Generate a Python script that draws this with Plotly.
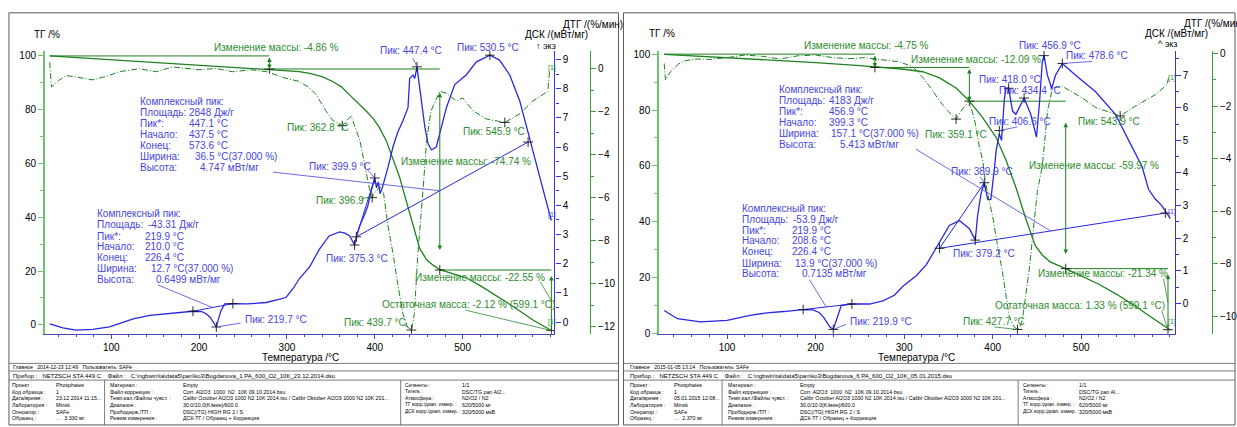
import plotly.graph_objects as go

W, H = 1237, 427
FONT = "Arial, Liberation Sans, sans-serif"
GREEN = "rgb(30,128,30)"
GREEN_T = "rgb(45,140,45)"
BLUE = "rgb(40,40,225)"
BLUE_T = "rgb(70,70,220)"
TG_AX = "rgb(110,195,110)"
DTG_AX = "rgb(60,160,60)"
DSC_AX = "rgb(50,50,235)"

# ================= DATA : left sample (Bogdanova_1, 23.12.2014) =================
L_TG_T = [30, 60, 100, 150, 200, 250, 280, 300, 314, 326, 340, 352, 362, 371, 380, 390, 398, 405,
          413, 420, 428, 432, 440, 451, 459, 466, 474, 490, 504, 520, 542, 560, 580, 601]
L_TG = [100.0, 99.4, 98.6, 97.7, 96.7, 95.7, 95.1, 94.6, 94.2, 93.5, 92.3, 90.5, 88.5, 85.6, 82.8,
        79.6, 76.8, 73.5, 68.5, 62.5, 55.2, 50.5, 41.5, 28.5, 24.2, 22.3, 20.5, 18.9, 17.5, 14.6,
        10.2, 6.3, 1.8, -2.1]

L_DTG_T = [30, 32, 40, 49, 62, 79, 95, 109, 132, 151, 170, 185, 200, 219, 238, 260, 277, 298, 314,
           326, 333, 345, 352, 363, 373, 383, 390, 394, 397, 401, 406, 410, 415, 421, 426, 432, 437,
           442, 445, 449, 455, 459, 464, 474, 481, 493, 500, 512, 527, 548, 565, 580, 597, 599]
L_DTG = [0.3, -0.85, -0.55, -0.32, -0.4, -0.52, -0.35, -0.14, 0.0, -0.14, 0.08, 0.0, -0.05, 0.01,
         -0.14, -0.05, -0.14, -0.44, -0.59, -0.9, -1.2, -2.0, -2.4, -2.65, -2.2, -3.33, -4.8, -5.6,
         -6.0, -5.7, -5.5, -5.8, -7.3, -8.66, -10.0, -11.4, -12.0, -12.16, -11.4, -8.66, -5.6,
         -3.33, -1.96, -1.05, -1.13, -1.5, -1.36, -1.96, -2.34, -2.5, -2.1, -1.5, -1.05, -0.05]

L_DSC_T = [30, 45, 60, 79, 98, 125, 144, 163, 193, 203, 208, 213, 216, 219.6, 222, 225, 229, 238.5,
           255, 276.5, 299, 307, 314.5, 326, 337, 348, 360, 366, 371.4, 377, 379, 383, 388, 392, 396,
           400, 402, 404, 406, 409, 415, 420.7, 426, 432, 437.8, 439.7, 443.5, 445.5, 448, 451, 454,
           457, 460.6, 464.5, 470, 474, 481.5, 491, 504, 515.7, 531, 542, 553.6, 565, 576.5, 588,
           595.4, 601]
L_DSC = [-0.06, -0.2, -0.28, -0.25, -0.17, 0.11, 0.23, 0.28, 0.37, 0.36, 0.28, 0.15, 0.02, -0.17,
         0.1, 0.39, 0.62, 0.63, 0.62, 0.67, 0.84, 1.15, 1.5, 1.9, 2.5, 2.95, 3.09, 3.05, 2.95, 2.64,
         2.92, 3.31, 3.65, 3.98, 4.5, 4.94, 4.6, 4.8, 4.4, 4.65, 5.3, 6.0, 6.5, 6.9, 7.35, 8.36, 8.47,
         8.35, 8.75, 8.02, 7.3, 6.68, 6.12, 5.9, 6.0, 6.45, 7.35, 8.14, 8.47, 8.92, 9.15, 8.98, 8.47,
         7.58, 6.23, 4.88, 4.1, 3.48]

L_DSC_MK_T = [193, 238.5, 219.6, 377, 379, 400, 448, 531, 574.5]
L_DSC_MK = [0.37, 0.63, -0.17, 2.64, 2.92, 4.94, 8.75, 9.15, 6.17]
L_DTG_MK_T = [363, 397, 441.7, 548]
L_DTG_MK = [-2.65, -6.0, -12.16, -2.5]
L_TG_MK_T = [280, 474, 601]
L_TG_MK = [95.14, 20.4, -2.12]
L_BASE = [([193, 238.5], [0.37, 0.63]), ([379, 574.5], [2.92, 6.17]), ([379, 400], [2.92, 4.94])]
L_STEPS_T = [30, 280, 474, 601]          # mass-change step boundaries
L_STEPS = [100.0, 95.14, 20.4, -2.12]    # mass levels

# ================= DATA : right sample (Bogdanova_6, 05.01.2015) =================
R_TG_T = [29, 60, 100, 150, 200, 250, 267, 300, 321, 340, 358.7, 373.7, 388.7, 403.7, 415, 426, 437,
          448, 456, 465, 482.5, 500, 520, 540, 557.5, 580, 595, 600.6]
R_TG = [99.9, 99.4, 98.8, 97.9, 97.0, 95.9, 95.4, 94.6, 93.7, 91.5, 87.9, 83.2, 77.3, 70.3, 62.1,
        52.5, 41.5, 31.5, 28.1, 25.6, 23.2, 20.6, 17.6, 14.0, 10.5, 5.6, 2.4, 1.2]

R_DTG_T = [29, 30.5, 33, 36.3, 45, 51, 65, 80, 100, 120, 140, 160, 180, 200, 220, 238.7, 255, 267,
           280, 295, 310, 321, 330, 340, 350, 358.7, 366, 373.7, 380, 385, 388.7, 392, 396, 400, 405,
           411, 418.7, 424, 428, 431, 433.7, 441, 450.6, 456, 462, 467.5, 478.7, 490, 501, 516.5,
           530, 544, 561, 583.7, 596.8, 598.6]
R_DTG = [-0.37, -1.0, -0.85, -0.68, -0.4, -0.28, -0.2, -0.22, -0.15, -0.05, -0.1, -0.2, -0.08,
         -0.05, -0.15, -0.19, -0.15, -0.19, -0.25, -0.31, -0.5, -0.9, -1.3, -1.8, -2.2, -2.49, -2.1,
         -1.8, -2.6, -3.55, -4.05, -4.9, -5.6, -6.2, -7.2, -8.3, -10.0, -10.4, -10.5, -10.4, -10.1,
         -8.3, -5.2, -4.3, -2.18, -1.31, -1.24, -1.45, -1.68, -2.05, -2.2, -2.37, -2.0, -1.56,
         -1.18, -0.93]

R_DSC_T = [29, 44, 70, 100, 126, 145, 164, 186, 197, 204, 209, 213, 216, 220, 223, 225.6, 229, 238.7,
           261, 276, 289, 299, 313.7, 325, 336, 351, 362.4, 373.7, 380.4, 383, 387, 390.6, 394.4, 398,
           401.8, 404, 407.5, 410, 413, 415, 418, 422.5, 426.2, 431.8, 435.5, 443, 449.5, 453, 456,
           458, 461.8, 466.7, 471, 478.7, 493.7, 516, 538.7, 553.6, 568.7, 576, 583.7, 591, 600.6]
R_DSC = [-0.22, -0.47, -0.57, -0.52, -0.37, -0.29, -0.25, -0.19, -0.2, -0.28, -0.42, -0.6, -0.72,
         -0.8, -0.55, -0.32, -0.07, -0.02, -0.02, 0.08, 0.25, 0.53, 0.85, 1.18, 1.69, 2.39, 2.54,
         2.29, 1.94, 2.69, 3.39, 3.7, 3.19, 3.19, 4.1, 4.7, 5.2, 5.0, 6.2, 6.6, 6.6, 5.9, 5.8, 6.1,
         6.3, 5.8, 5.1, 6.2, 7.4, 7.6, 7.0, 6.6, 7.0, 7.36, 7.0, 6.5, 5.8, 5.0, 4.2, 3.5, 3.2, 3.0,
         2.6]

R_DSC_MK_T = [186, 241, 220, 340, 380.4, 390.6, 407.5, 418, 435.5, 458, 478.7, 595]
R_DSC_MK = [-0.19, -0.02, -0.8, 1.69, 1.94, 3.7, 5.3, 6.6, 6.3, 7.6, 7.36, 2.77]
R_DTG_MK_T = [358.7, 428, 544]
R_DTG_MK = [-2.49, -10.5, -2.37]
R_TG_MK_T = [267, 373.7, 482.5, 598]
R_TG_MK = [95.25, 83.16, 23.19, 1.33]
R_BASE = [([186, 241], [-0.19, -0.02]), ([340, 595], [1.69, 2.77]), ([340, 390.6], [1.69, 3.7])]
R_STEPS_T = [29, 267, 373.7, 482.5, 598]
R_STEPS = [100.0, 95.25, 83.16, 23.19, 1.33]

X_TICKS = [100, 200, 300, 400, 500]
X_MINOR = list(range(40, 601, 20))

# ================= layout geometry =================
YTOP, YBOT = 49, 337
P = {
    "L": dict(xa="x", tg="y", dsc="y2", dtg="y3", xpx=(45, 556.7), xr=(24.4, 604.5),
              tgr=(-3.28, 101.8), dscr=(-0.40, 9.29), dtgr=(-12.33, 0.82), dtgpx=592.3,
              dscticks=list(range(0, 10)), dtgticks=list(range(-12, 1, 2))),
    "R": dict(xa="x2", tg="y4", dsc="y5", dtg="y6", xpx=(661.7, 1179.3), xr=(23.2, 605.4),
              tgr=(-0.1, 101.1), dscr=(-0.93, 7.74), dtgr=(-10.66, 0.10), dtgpx=1216.7,
              dscticks=list(range(0, 8)), dtgticks=list(range(-10, 1, 2))),
}


def px_x(p, T):
    x0, x1 = P[p]["xpx"]
    a, b = P[p]["xr"]
    return x0 + (T - a) / (b - a) * (x1 - x0)


def px_y(p, key, v):
    a, b = P[p][key + "r"]
    return YBOT - (v - a) / (b - a) * (YBOT - YTOP)


fig = go.Figure()
ann = []
shapes = []


def text(s, x, y, color="black", size=10, anchor="left"):
    ann.append(dict(text=s, x=x / W, y=1 - y / H, xref="paper", yref="paper", showarrow=False,
                    xanchor=anchor, yanchor="middle", font=dict(family=FONT, size=size, color=color)))


def leader(p, key, T, v, tx, ty, color):
    hx, hy = px_x(p, T), px_y(p, key, v)
    ann.append(dict(text="", x=T, y=v, xref=P[p]["xa"], yref=P[p][key], showarrow=True,
                    arrowhead=0, arrowwidth=0.8, arrowcolor=color, ax=tx - hx, ay=ty - hy,
                    standoff=0, startstandoff=0))


def mass_arrow(p, T, v_head, v_tail, both=False):
    ann.append(dict(text="", x=T, y=v_head, xref=P[p]["xa"], yref=P[p]["tg"], axref=P[p]["xa"],
                    ayref=P[p]["tg"], ax=T, ay=v_tail, showarrow=True, arrowhead=2, arrowsize=0.9,
                    arrowwidth=1, arrowcolor=GREEN, arrowside="end+start" if both else "end",
                    standoff=0, startstandoff=0))


def add_panel(p, tgT, tg, dtgT, dtg, dscT, dsc, mk, base, stepsT, steps):
    c = P[p]
    xa = c["xa"]
    for i in range(len(stepsT) - 1):
        fig.add_trace(go.Scatter(x=[stepsT[i], stepsT[i + 1]], y=[steps[i], steps[i]], xaxis=xa,
                                 yaxis=c["tg"], mode="lines", line=dict(color=GREEN, width=1),
                                 hoverinfo="skip"))
    fig.add_trace(go.Scatter(x=tgT, y=tg, xaxis=xa, yaxis=c["tg"], mode="lines",
                             line=dict(color=GREEN, width=1.3), hoverinfo="skip"))
    fig.add_trace(go.Scatter(x=dtgT, y=dtg, xaxis=xa, yaxis=c["dtg"], mode="lines",
                             line=dict(color=GREEN, width=1, dash="6px,2px,1px,2px"),
                             hoverinfo="skip"))
    for bx, bv in base:
        fig.add_trace(go.Scatter(x=bx, y=bv, xaxis=xa, yaxis=c["dsc"], mode="lines",
                                 line=dict(color=BLUE, width=1), hoverinfo="skip"))
    fig.add_trace(go.Scatter(x=dscT, y=dsc, xaxis=xa, yaxis=c["dsc"], mode="lines",
                             line=dict(color=BLUE, width=1.3), hoverinfo="skip"))
    for (mT, mV, key) in mk:
        fig.add_trace(go.Scatter(x=mT, y=mV, xaxis=xa, yaxis=c[key], mode="markers",
                                 marker=dict(symbol="cross-thin", size=7,
                                             line=dict(width=0.9, color="rgb(20,20,20)")),
                                 hoverinfo="skip"))


add_panel("L", L_TG_T, L_TG, L_DTG_T, L_DTG, L_DSC_T, L_DSC,
          [(L_DSC_MK_T, L_DSC_MK, "dsc"), (L_DTG_MK_T, L_DTG_MK, "dtg"), (L_TG_MK_T, L_TG_MK, "tg")],
          L_BASE, L_STEPS_T, L_STEPS)
add_panel("R", R_TG_T, R_TG, R_DTG_T, R_DTG, R_DSC_T, R_DSC,
          [(R_DSC_MK_T, R_DSC_MK, "dsc"), (R_DTG_MK_T, R_DTG_MK, "dtg"), (R_TG_MK_T, R_TG_MK, "tg")],
          R_BASE, R_STEPS_T, R_STEPS)

mass_arrow("L", L_STEPS_T[1], L_STEPS[1], L_STEPS[0], both=True)
mass_arrow("L", L_STEPS_T[2], 27.8, 86.9, both=True)
mass_arrow("L", L_STEPS_T[3], 18.2, -1.9)
mass_arrow("R", R_STEPS_T[1], R_STEPS[1], R_STEPS[0], both=True)
mass_arrow("R", R_STEPS_T[2], R_STEPS[2], R_STEPS[1], both=True)
mass_arrow("R", R_STEPS_T[3], 28.4, 76.0, both=True)
mass_arrow("R", R_STEPS_T[4], 21.1, 1.76)

# ================= axes =================
layout_axes = {}
for p, n in (("L", ""), ("R", "2")):
    c = P[p]
    x0, x1 = c["xpx"]
    tgname = "yaxis" if p == "L" else "yaxis4"
    tgref = "y" if p == "L" else "y4"
    dscname = "yaxis2" if p == "L" else "yaxis5"
    dtgname = "yaxis3" if p == "L" else "yaxis6"
    layout_axes["xaxis" + n] = dict(
        domain=[x0 / W, x1 / W], range=list(c["xr"]), anchor=tgref, showline=True,
        linecolor="rgb(70,70,190)", linewidth=1, ticks="outside", ticklen=4, tickwidth=1,
        tickcolor="rgb(70,70,190)", tickvals=X_TICKS, showgrid=False, zeroline=False,
        ticklabelstandoff=0,
        tickfont=dict(family=FONT, size=10, color="black"),
        minor=dict(tickvals=X_MINOR, ticks="outside", ticklen=2.5, tickcolor="rgb(70,70,190)"))
    layout_axes[tgname] = dict(
        domain=[1 - YBOT / H, 1 - YTOP / H], range=list(c["tgr"]), anchor=c["xa"], side="left",
        showline=True, linecolor=TG_AX, linewidth=1.6, ticks="outside", ticklen=5,
        tickcolor=TG_AX, tickvals=list(range(0, 101, 20)), showgrid=False, zeroline=False,
        tickfont=dict(family=FONT, size=10, color="black"),
        minor=dict(tickvals=list(range(10, 100, 20)), ticks="outside", ticklen=3, tickcolor=TG_AX))
    layout_axes[dscname] = dict(
        overlaying=tgref, range=list(c["dscr"]), anchor=c["xa"], side="right", showline=True,
        linecolor=DSC_AX, linewidth=1.4, ticks="outside", ticklen=5, tickcolor=DSC_AX,
        tickvals=c["dscticks"], showgrid=False, zeroline=False,
        tickfont=dict(family=FONT, size=10, color="black"),
        minor=dict(tickvals=[t + 0.5 for t in c["dscticks"]], ticks="outside", ticklen=3,
                   tickcolor=DSC_AX))
    layout_axes[dtgname] = dict(
        overlaying=tgref, range=list(c["dtgr"]), anchor="free", position=c["dtgpx"] / W,
        side="right", showline=True, linecolor=DTG_AX, linewidth=1.4, ticks="outside", ticklen=5,
        tickcolor=DTG_AX, tickvals=c["dtgticks"], showgrid=False, zeroline=False,
        tickfont=dict(family=FONT, size=10, color="black"),
        minor=dict(tickvals=[t + 1 for t in c["dtgticks"][:-1]], ticks="outside", ticklen=3,
                   tickcolor=DTG_AX))

# ================= annotations: left =================
text("ТГ /%", 32.5, 32.5)
text("ДТГ /(%/мин)", 563, 21.5)
text("ДСК /(мВт/мг)", 525, 32.5)
text("↑ экз", 536, 44, size=9)
text("Температура /°C", 302, 361, anchor="center")

text("Изменение массы: -4.86 %", 213, 45.5, GREEN_T)
text("Пик: 447.4 °C", 380, 48, BLUE_T)
text("Пик: 530.5 °C", 456.5, 45, BLUE_T)
text("Пик: 362.8 °C", 286.5, 126.5, GREEN_T)
text("Пик: 545.9 °C", 463, 131, GREEN_T)
text("Пик: 399.9 °C", 308, 166.5, BLUE_T)
text("Изменение массы: -74.74 %", 401, 162, GREEN_T)
text("Пик: 396.9", 315, 201, GREEN_T)
text("Пик: 375.3 °C", 325, 260.5, BLUE_T)
text("Изменение массы: -22.55 %", 415, 279.5, GREEN_T)
text("Остаточная масса: -2.12 % (599.1 °C)", 381.5, 307.5, GREEN_T)
text("Пик: 439.7 °C", 343, 326, GREEN_T)
text("Пик: 219.7 °C", 243.5, 322.5, BLUE_T)
text("[1]", 548, 66, GREEN_T, size=7)
text("[1]", 548, 216, BLUE_T, size=7)
text("[1]", 548, 325, GREEN_T, size=7)

UL_LAB = ["Комплексный пик:", "Площадь:", "Пик*:", "Начало:", "Конец:", "Ширина:", "Высота:"]
UL_VAL = ["", "2848 Дж/г", "447.1 °C", "437.5 °C", "573.6 °C", "36.5 °C(37.000 %)", "4.747 мВт/мг"]
UL_VX = [0, 187.5, 187.5, 187.5, 187.5, 193.5, 198.5]
UL_Y = [100.5, 111.5, 122.5, 134, 145, 156, 167.5]
for lab, val, vx, y in zip(UL_LAB, UL_VAL, UL_VX, UL_Y):
    text(lab, 138.5, y, BLUE_T)
    if val:
        text(val, vx, y, BLUE_T)

LL_VAL = ["", "-43.31 Дж/г", "219.9 °C", "210.0 °C", "226.4 °C", "12.7 °C(37.000 %)", "0.6499 мВт/мг"]
LL_VX = [0, 146.5, 144, 144, 144, 150, 155]
LL_Y = [215, 226, 237.5, 248.5, 259.5, 270.5, 281.5]
for lab, val, vx, y in zip(UL_LAB, LL_VAL, LL_VX, LL_Y):
    text(lab, 95, y, BLUE_T)
    if val:
        text(val, vx, y, BLUE_T)

leader("L", "dsc", 448, 8.75, 414, 55, BLUE_T)
leader("L", "dsc", 219.6, -0.17, 243, 326, BLUE_T)
leader("L", "dsc", 400, 4.94, 368, 169, BLUE_T)
leader("L", "dtg", 397, -6.0, 361, 199, GREEN_T)
leader("L", "dtg", 441.7, -12.16, 405, 327, GREEN_T)
leader("L", "dsc", 474, 4.5, 273, 172.5, BLUE_T)
leader("L", "dsc", 215, 0.5, 157, 287, BLUE_T)
leader("L", "tg", 601, 9.0, 541.5, 283, GREEN_T)
leader("L", "tg", 601, -2.12, 466, 313, GREEN_T)

# ================= annotations: right =================
text("ТГ /%", 650, 31)
text("ДТГ /(%/мин)", 1186.5, 20.5)
text("ДСК /(мВт/мг)", 1148, 31.5)
text("^ экз", 1160.5, 41.5, size=9)
text("Температура /°C", 920, 361, anchor="center")

text("Изменение массы: -4.75 %", 805, 43, GREEN_T)
text("Изменение массы: -12.09 %", 913, 57.5, GREEN_T)
text("Пик: 456.9 °C", 1021.5, 43.5, BLUE_T)
text("Пик: 478.6 °C", 1068, 54, BLUE_T)
text("Пик: 418.0 °C", 981, 77.5, BLUE_T)
text("Пик: 434.4 °C", 1001, 89, BLUE_T)
text("Пик: 406.6 °C", 991.5, 120.5, BLUE_T)
text("Пик: 359.1 °C", 926.5, 134, GREEN_T)
text("Пик: 543.9 °C", 1080.5, 120.5, GREEN_T)
text("Изменение массы: -59.97 %", 1031, 165.5, GREEN_T)
text("Пик: 389.9 °C", 953, 171.5, BLUE_T)
text("Пик: 379.2 °C", 955, 255, BLUE_T)
text("Изменение массы: -21.34 %", 1040.5, 276, GREEN_T)
text("Остаточная масса: 1.33 % (599.1 °C)", 997, 308.5, GREEN_T)
text("Пик: 427.7 °C", 965, 325, GREEN_T)
text("Пик: 219.9 °C", 851.5, 324.5, BLUE_T)
text("[1]", 1171, 76, GREEN_T, size=7)
text("[1]", 1171, 213, BLUE_T, size=7)
text("[1]", 1171, 325, GREEN_T, size=7)

UR_LAB = ["Комплексный пик:", "Площадь:", "Пик*:", "Начало:", "Ширина:", "Высота:"]
UR_VAL = ["", "4183 Дж/г", "456.9 °C", "399.3 °C", "157.1 °C(37.000 %)", "5.413 мВт/мг"]
UR_VX = [0, 830.5, 830.5, 830.5, 832, 841.5]
UR_Y = [88.5, 99.5, 111, 122, 133.5, 144.5]
for lab, val, vx, y in zip(UR_LAB, UR_VAL, UR_VX, UR_Y):
    text(lab, 780.5, y, BLUE_T)
    if val:
        text(val, vx, y, BLUE_T)

LR_VAL = ["", "-53.9 Дж/г", "219.9 °C", "208.6 °C", "226.4 °C", "13.9 °C(37.000 %)", "0.7135 мВт/мг"]
LR_VX = [0, 794.5, 793.5, 793.5, 793.5, 796.5, 803.5]
LR_Y = [209.5, 220.5, 231.5, 242.5, 253.5, 265, 276]
for lab, val, vx, y in zip(UL_LAB, LR_VAL, LR_VX, LR_Y):
    text(lab, 743.5, y, BLUE_T)
    if val:
        text(val, vx, y, BLUE_T)

leader("R", "dsc", 220, -0.8, 851, 327, BLUE_T)
leader("R", "dsc", 390.6, 3.7, 983, 176, BLUE_T)
leader("R", "dsc", 407.5, 5.3, 1023, 126, BLUE_T)
leader("R", "dsc", 478.7, 7.36, 1098, 59.5, BLUE_T)
leader("R", "dtg", 428, -10.5, 997, 330, GREEN_T)
leader("R", "dsc", 465.6, 2.22, 918.5, 149.5, BLUE_T)
leader("R", "dsc", 212, -0.11, 812, 281, BLUE_T)
leader("R", "tg", 598, 11.0, 1168, 280, GREEN_T)
leader("R", "tg", 598, 1.33, 1166, 313, GREEN_T)

# ================= footer tables =================
HEAD = ["Главное   2014-12-23 12:49   Пользователь: SAFe", "Главное   2015-01-05 13:14   Пользователь: SAFe"]
DEVICE = ["Прибор :   NETZSCH STA 449 C    Файл :   C:\\ngbwin\\ta\\data5\\pan\\ko3\\Bogdanova_1 PA_600_O2_10K_23.12.2014.dsu",
          "Прибор :   NETZSCH STA 449 C    Файл :   C:\\ngbwin\\ta\\data5\\pan\\ko3\\Bogdanova_6 PA_600_O2_10K_05.01.2015.dsu"]
C1_LAB = ["Проект :", "Код образца :", "Дата/время :", "Лаборатория :", "Оператор :", "Образец :"]
C1_VAL = [["Phosphates", "1", "23.12.2014 11:15...", "Minsk", "SAFe", "…  3.330 мг"],
          ["Phosphates", "1", "05.01.2015 12:08...", "Minsk", "SAFe", "…  2.370 мг"]]
C2_LAB = ["Материал :", "Файл коррекции :", "Темп.кал./Файлы чувст. :", "Диапазон :", "Прободерж./ТП :",
          "Режим измерения :"]
C2_VAL = ["Empty", "Corr. Al2O3  1000  N2  10K 09.10.2014.bsu",
          "Calibr October Al2O3 1000 N2 10K 2014.tsu / Calibr Oktober Al2O3 1000 N2 10K 201...",
          "30.0/10.0(K/мин)/600.0", "DSC(/TG) HIGH RG 2 / S", "ДСК-ТГ / Образец + Коррекция"]
C3_LAB = ["Сегменты :", "Тигель :", "Атмосфера :", "ТГ корр./диап. измер. :", "ДСК корр./диап. измер. :"]
C3_VAL = [["1/1", "DSC/TG pan Al2...", "N2/O2 / N2", "620/5000 мг", "320/5000 мкВ"],
          ["1/1", "DSC/TG pan Al...", "N2/O2 / N2", "620/5000 мг", "320/5000 мкВ"]]
ROW_Y = [389.5, 396.2, 402.9, 409.6, 416.3, 423]
FS = 5.3
for k, off in enumerate((0, 620)):
    x_left = 9 if k == 0 else 626
    x_right = 621 if k == 0 else 1240
    shapes.append(dict(type="rect", xref="paper", yref="paper", x0=x_left / W, x1=x_right / W,
                       y0=1 - 430 / H, y1=1 - 10 / H, line=dict(color="rgb(90,90,90)", width=1)))
    for yy in (367.3, 375, 384.3):
        shapes.append(dict(type="line", xref="paper", yref="paper", x0=x_left / W, x1=x_right / W,
                           y0=1 - yy / H, y1=1 - yy / H, line=dict(color="rgb(90,90,90)", width=0.8)))
    for xx in (105 + off, 402.3 + off):
        shapes.append(dict(type="line", xref="paper", yref="paper", x0=xx / W, x1=xx / W,
                           y0=1 - 384.3 / H, y1=1 - 430 / H, line=dict(color="rgb(90,90,90)", width=0.8)))
    text(HEAD[k], 11 + off, 371.2, size=5.2)
    text(DEVICE[k], 11 + off, 379.8, size=6)
    for i, y in enumerate(ROW_Y):
        text(C1_LAB[i], 10.5 + off, y, size=FS)
        text(C1_VAL[k][i], 54.5 + off, y, size=FS)
        text(C2_LAB[i], 108.5 + off, y, size=FS)
        text(C2_VAL[i], 181.5 + off, y, size=FS)
        if i < len(C3_LAB):
            text(C3_LAB[i], 405 + off, y, size=4.9)
            text(C3_VAL[k][i], 461.5 + off, y, size=FS)

fig.update_layout(
    width=W, height=H, autosize=False, margin=dict(l=0, r=0, t=0, b=0, pad=0),
    paper_bgcolor="white", plot_bgcolor="rgba(0,0,0,0)", showlegend=False,
    font=dict(family=FONT, size=10, color="black"),
    annotations=ann, shapes=shapes, **layout_axes)

fig.write_html("out.html")
